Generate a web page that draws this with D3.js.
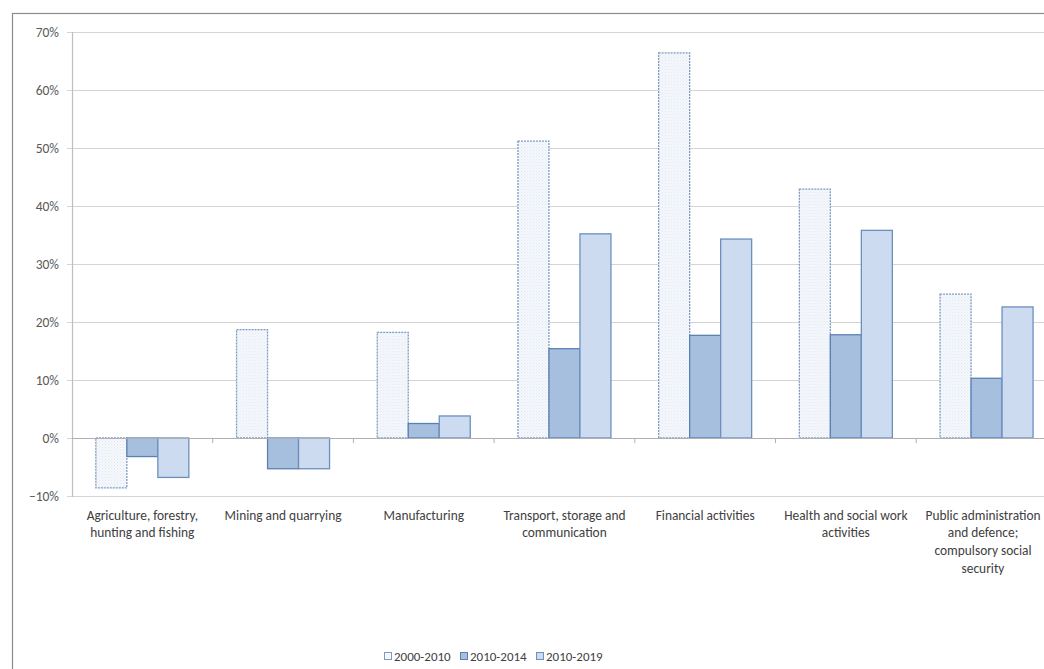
<!DOCTYPE html>
<html>
<head>
<meta charset="utf-8">
<script src="https://cdn.jsdelivr.net/npm/d3@7"></script>
<style>
  html, body { margin: 0; padding: 0; background: #fff; }
  svg { display: block; }
  text { font-family: Carlito, Calibri, Lato, "Open Sans", sans-serif; }
</style>
</head>
<body>
<svg id="chart" width="1044" height="669"></svg>
<script>
const categories = [
  "Agriculture, forestry, hunting and fishing",
  "Mining and quarrying",
  "Manufacturing",
  "Transport, storage and communication",
  "Financial activities",
  "Health and social work activities",
  "Public administration and defence; compulsory social security"
];
const categoryLines = [
  ["Agriculture, forestry,", "hunting and fishing"],
  ["Mining and quarrying"],
  ["Manufacturing"],
  ["Transport, storage and", "communication"],
  ["Financial activities"],
  ["Health and social work", "activities"],
  ["Public administration", "and defence;", "compulsory social", "security"]
];
const seriesNames = ["2000-2010", "2010-2014", "2010-2019"];
const values2000_2010 = [-0.086, 0.187, 0.182, 0.512, 0.664, 0.429, 0.248];
const values2010_2014 = [-0.032, -0.053, 0.025, 0.154, 0.177, 0.178, 0.103];
const values2010_2019 = [-0.068, -0.053, 0.038, 0.352, 0.343, 0.358, 0.226];
const yTicks = [-0.1, 0, 0.1, 0.2, 0.3, 0.4, 0.5, 0.6, 0.7];

const seriesValues = [values2000_2010, values2010_2014, values2010_2019];
const seriesStyle = [
  { fill: "url(#dots)", stroke: "#7f9bc4", dash: "2,1" },
  { fill: "#a7bfdf", stroke: "#5b80b3", dash: null },
  { fill: "#ccdbef", stroke: "#6d8fbe", dash: null }
];

const svg = d3.select("#chart");
const W = 1044, H = 669;
const plotLeft = 72, catW = 140.7;
const plotTop = 32, plotBottom = 496;

// pattern for 2000-2010
const defs = svg.append("defs");
const pat = defs.append("pattern").attr("id", "dots")
  .attr("patternUnits", "userSpaceOnUse").attr("width", 3).attr("height", 3);
pat.append("rect").attr("width", 3).attr("height", 3).attr("fill", "#f5f8fc");
pat.append("rect").attr("x", 0).attr("y", 0).attr("width", 1).attr("height", 1).attr("fill", "#dfe6f0");
pat.append("rect").attr("x", 1.5).attr("y", 1.5).attr("width", 1).attr("height", 1).attr("fill", "#e6ecf4");

// outer chart border
svg.append("rect").attr("x", 12.5).attr("y", 13.5).attr("width", W + 20).attr("height", H + 20)
  .attr("fill", "none").attr("stroke", "#8c8c8c").attr("stroke-width", 1.2);

const x0 = d3.scaleBand().domain(categories).range([plotLeft, plotLeft + catW * categories.length]).padding(0);
const groupPad = (catW - 93) / 2;
const x1 = d3.scaleBand().domain(seriesNames).range([groupPad, catW - groupPad]).padding(0);
const y = d3.scaleLinear().domain([-0.1, 0.7]).range([plotBottom, plotTop]);

// gridlines
svg.append("g").selectAll("line").data(yTicks).join("line")
  .attr("x1", plotLeft).attr("x2", W + 10)
  .attr("y1", d => Math.round(y(d)) + 0.5).attr("y2", d => Math.round(y(d)) + 0.5)
  .attr("stroke", "#d4d4d4").attr("stroke-width", 1.2);

// y axis line
svg.append("line").attr("x1", plotLeft + 0.5).attr("x2", plotLeft + 0.5)
  .attr("y1", plotTop).attr("y2", plotBottom + 1)
  .attr("stroke", "#bfbfbf").attr("stroke-width", 1.2);

// y tick labels
const fmt = d3.format(".0%");
svg.append("g").selectAll("text").data(yTicks).join("text")
  .attr("x", 59).attr("y", d => y(d)).attr("dy", "0.35em")
  .attr("text-anchor", "end").attr("font-size", 13.5).attr("fill", "#595959")
  .text(d => fmt(d));

// y tick marks (small)
svg.append("g").selectAll("line").data(yTicks).join("line")
  .attr("x1", plotLeft - 5).attr("x2", plotLeft)
  .attr("y1", d => Math.round(y(d)) + 0.5).attr("y2", d => Math.round(y(d)) + 0.5)
  .attr("stroke", "#d4d4d4");

// bars
const groups = svg.append("g").selectAll("g").data(categories).join("g")
  .attr("transform", c => `translate(${x0(c)},0)`);
seriesNames.forEach((s, si) => {
  groups.append("rect")
    .attr("x", () => x1(s))
    .attr("width", x1.bandwidth())
    .attr("y", (c, ci) => y(Math.max(0, seriesValues[si][ci])))
    .attr("height", (c, ci) => Math.abs(y(seriesValues[si][ci]) - y(0)))
    .attr("fill", seriesStyle[si].fill)
    .attr("stroke", seriesStyle[si].stroke)
    .attr("stroke-width", 1.3)
    .attr("stroke-dasharray", seriesStyle[si].dash);
});

// category axis at 0 with tick marks
svg.append("line").attr("x1", plotLeft).attr("x2", W + 10)
  .attr("y1", Math.round(y(0)) + 0.5).attr("y2", Math.round(y(0)) + 0.5)
  .attr("stroke", "#b0b0b0").attr("stroke-width", 1.2);
const boundaries = categories.map(c => x0(c) + catW);
svg.append("g").selectAll("line").data(boundaries).join("line")
  .attr("x1", d => d).attr("x2", d => d)
  .attr("y1", y(0)).attr("y2", y(0) + 5)
  .attr("stroke", "#b0b0b0");

// category labels
const lab = svg.append("g").selectAll("text").data(categories).join("text")
  .attr("text-anchor", "middle").attr("font-size", 13.4).attr("fill", "#404040");
lab.each(function(c, i) {
  const t = d3.select(this);
  categoryLines[i].forEach((line, li) => {
    t.append("tspan").attr("x", Math.min(x0(c) + catW / 2, 983)).attr("y", 515 + li * 17.7)
      .attr("dy", "0.35em").text(line);
  });
});

// legend
const legendX = [384, 460, 536];
const leg = svg.append("g").selectAll("g").data(seriesNames).join("g")
  .attr("transform", (d, i) => `translate(${legendX[i]},656)`);
leg.append("rect").attr("x", 0.5).attr("y", -3.5).attr("width", 7).attr("height", 7)
  .attr("fill", (d, i) => i === 0 ? "#f5f8fc" : seriesStyle[i].fill)
  .attr("stroke", (d, i) => seriesStyle[i].stroke).attr("stroke-width", 1);
leg.append("text").attr("x", 10).attr("y", 0).attr("dy", "0.35em")
  .attr("font-size", 13).attr("fill", "#404040").text(d => d);
</script>
</body>
</html>
